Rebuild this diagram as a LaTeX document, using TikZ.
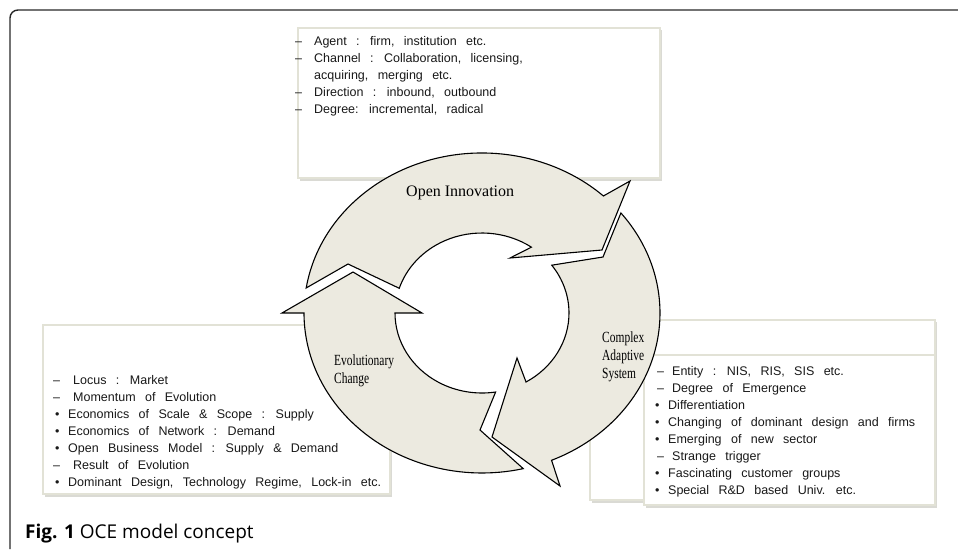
\documentclass[tikz,border=0pt]{standalone}
\usepackage{fontspec}
\setmainfont{Liberation Serif}
\newfontfamily\boxfont[WordSpace=2.7]{Liberation Sans}
\newfontfamily\labfont[FakeStretch=0.74]{Liberation Serif}
\newfontfamily\capfont{Open Sans}
\usetikzlibrary{calc}
\definecolor{arrowfill}{RGB}{236,234,224}
\definecolor{boxline}{RGB}{226,226,214}
\definecolor{boxshadow}{RGB}{218,218,212}
\definecolor{frameline}{RGB}{40,40,40}
\definecolor{txt}{RGB}{25,25,25}
\begin{document}
\begin{tikzpicture}[x=1pt,y=1pt,
  cyc/.style={fill=arrowfill, draw=black, line width=1.1pt, line join=miter},
  infobox/.style={fill=white, draw=boxline, line width=1.2pt},
  boxshade/.style={fill=boxshadow, draw=none},
  itemtext/.style={anchor=base west, inner sep=0pt, text=txt, font=\boxfont\fontsize{12.5}{15}\selectfont},
  cyclabel/.style={anchor=base west, inner sep=0pt, font=\labfont\fontsize{15.5}{18}\selectfont},
  oilabel/.style={anchor=base west, inner sep=0pt, font=\fontsize{16}{18}\selectfont}]
\useasboundingbox (0,0) rectangle (958,-549);
% frame
\coordinate (fa) at (10,-549);
\coordinate (fb) at (10,-10);
\coordinate (fc) at (960,-10);
\draw[frameline, line width=1.4pt, rounded corners=8pt] (fa) -- (fb) -- (fc);
% boxes
\fill[boxshade] (300,-30) rectangle (662,-181);
\draw[infobox] (298,-28) rectangle (660,-178);
\fill[boxshade] (45,-327) rectangle (392,-497);
\draw[infobox] (43,-325) rectangle (390,-494);
\fill[boxshade] (592,-322) rectangle (937,-503);
\draw[infobox] (590,-320) rectangle (935,-500);
\fill[boxshade] (646,-357) rectangle (937,-508);
\draw[infobox] (644,-355) rectangle (935,-505);
% cycle arrows
\coordinate (C) at (482,-313);
% Open Innovation
\draw[cyc] ($(C)+(171:178pt and 160pt)$) arc[start angle=171, end angle=47, x radius=178pt, y radius=160pt]
  -- (630,-181) -- (602,-250) -- (510,-258)
  -- ($(C)+(55.4:87pt and 80pt)$) arc[start angle=55.4, end angle=162, x radius=87pt, y radius=80pt]
  -- (348,-264) -- cycle;
% Evolutionary Change
\draw[cyc] ($(C)+(180:178pt and 160pt)$) -- (282,-313) -- (353,-272) -- (422,-313)
  -- ($(C)+(180:87pt and 80pt)$) arc[start angle=180, end angle=279, x radius=87pt, y radius=80pt]
  -- (480,-430)
  -- ($(C)+(283.4:178pt and 160pt)$) arc[start angle=283.4, end angle=180, x radius=178pt, y radius=160pt]
  -- cycle;
% Complex Adaptive System
\draw[cyc] ($(C)+(38.7:178pt and 160pt)$) arc[start angle=38.7, end angle=-67, x radius=178pt, y radius=160pt]
  -- (560,-486) -- (492,-437) -- (517,-358)
  -- ($(C)+(-59.6:87pt and 80pt)$) arc[start angle=-59.6, end angle=36.7, x radius=87pt, y radius=80pt]
  -- (603,-257) -- cycle;
% cycle labels
\node[oilabel] (oi) at (406,-196) {Open Innovation};
\node[cyclabel] (ec1) at (334,-365) {Evolutionary};
\node[cyclabel] (ec2) at (334,-383) {Change};
\node[cyclabel] (cas1) at (602,-342) {Complex};
\node[cyclabel] (cas2) at (602,-360) {Adaptive};
\node[cyclabel] (cas3) at (602,-378) {System};
% top box text
\foreach \mx/\mk/\tx/\t [count=\i from 0] in {
  295/–/314/{Agent : firm, institution etc.},
  295/–/314/{Channel : Collaboration, licensing,},
  295/{}/314/{acquiring, merging etc.},
  295/–/314/{Direction : inbound, outbound},
  295/–/314/{Degree: incremental, radical}}{
  \node[itemtext] (tm\i) at (\mx,-45-17*\i) {\mk};
  \node[itemtext] (tt\i) at (\tx,-45-17*\i) {\t};
}
% left box text
\foreach \mx/\mk/\tx/\t [count=\i from 0] in {
  53/–/73/{Locus : Market},
  53/–/73/{Momentum of Evolution},
  55/•/68/{Economics of Scale \& Scope : Supply},
  55/•/68/{Economics of Network : Demand},
  55/•/68/{Open Business Model : Supply \& Demand},
  53/–/73/{Result of Evolution},
  55/•/68/{Dominant Design, Technology Regime, Lock-in etc.}}{
  \node[itemtext] (lm\i) at (\mx,-384-17*\i) {\mk};
  \node[itemtext] (lt\i) at (\tx,-384-17*\i) {\t};
}
% right box text
\foreach \mx/\mk/\tx/\t [count=\i from 0] in {
  657/–/672/{Entity : NIS, RIS, SIS etc.},
  657/–/672/{Degree of Emergence},
  655/•/668/{Differentiation},
  655/•/668/{Changing of dominant design and firms},
  655/•/668/{Emerging of new sector},
  657/–/672/{Strange trigger},
  655/•/668/{Fascinating customer groups},
  655/•/668/{Special R\&D based Univ. etc.}}{
  \node[itemtext] (rm\i) at (\mx,-375-17.1*\i) {\mk};
  \node[itemtext] (rt\i) at (\tx,-375-17.1*\i) {\t};
}
% caption
\node[anchor=base west, inner sep=0pt, font=\capfont\fontsize{19}{22}\selectfont] (cap) at (25,-538)
  {\textbf{Fig. 1} OCE model concept};
\end{tikzpicture}
\end{document}
